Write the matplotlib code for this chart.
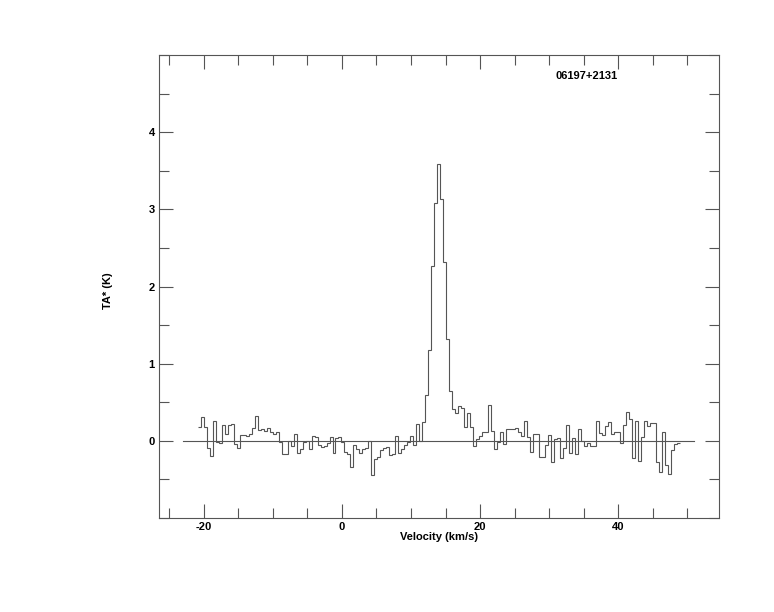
import matplotlib

matplotlib.use("Agg")

import matplotlib.pyplot as plt
import numpy as np
from matplotlib.ticker import MultipleLocator

# channel grid (km/s) and antenna temperature per channel (K)
v_start = -20.9
chan_width = 0.434
ta = [
    0.18, 0.31, 0.18, -0.095, -0.2, 0.26, -0.02, -0.03, 0.2, 0.09,
    0.2, 0.22, -0.04, -0.095, 0.07, 0.07, 0.065, 0.09, 0.17, 0.32,
    0.14, 0.15, 0.13, 0.16, 0.12, 0.09, 0.12, -0.01, -0.17, -0.17,
    0.0, -0.07, 0.09, -0.16, -0.11, -0.01, 0.0, -0.1, 0.06, 0.056,
    -0.06, -0.086, -0.07, -0.03, 0.05, -0.16, 0.035, 0.05, -0.01, -0.15,
    -0.17, -0.34, -0.05, -0.1, -0.16, -0.1, -0.09, 0.0, -0.44, -0.24,
    -0.21, -0.12, -0.09, -0.08, -0.19, -0.17, 0.065, -0.16, -0.11, -0.06,
    -0.02, 0.065, -0.05, 0.22, 0.0, 0.24, 0.6, 1.18, 2.26, 3.08,
    3.59, 3.14, 2.32, 1.32, 0.65, 0.41, 0.36, 0.45, 0.42, 0.185,
    0.36, 0.185, -0.07, 0.03, 0.06, 0.11, 0.11, 0.47, 0.13, -0.11,
    -0.02, 0.12, -0.04, 0.15, 0.15, 0.15, 0.16, 0.11, 0.065, 0.26,
    0.056, -0.14, 0.086, 0.086, -0.21, -0.21, -0.05, 0.07, -0.27, 0.02,
    0.04, -0.22, -0.095, 0.2, -0.16, 0.035, -0.17, 0.15, 0.0, -0.065,
    -0.03, -0.07, -0.065, 0.26, 0.1, 0.07, 0.19, 0.25, 0.086, 0.11,
    0.11, -0.03, 0.21, 0.37, 0.28, -0.22, 0.26, -0.26, 0.056, 0.26,
    0.19, 0.23, 0.23, -0.28, -0.4, 0.11, -0.31, -0.43, -0.12, -0.04,
    -0.03,
]
baseline_range = [-23.0, 51.0]
source_name = "06197+2131"

LINE = "#555555"
FONT = ["Liberation Sans", "DejaVu Sans"]

plt.rcParams.update({
    "font.family": FONT,
    "font.size": 8,
    "font.weight": "bold",
    "axes.unicode_minus": False,
})

fig = plt.figure(figsize=(7.74, 6.12), dpi=100)
ax = fig.add_axes([0.2054, 0.1536, 0.7235, 0.7565])

edges = v_start + chan_width * np.arange(len(ta) + 1)
ax.stairs(ta, edges, baseline=None, color=LINE, linewidth=0.8)
ax.plot(baseline_range, [0, 0], color=LINE, linewidth=0.8)

ax.set_xlim(-26.5, 54.6)
ax.set_ylim(-1, 5)
ax.xaxis.set_major_locator(MultipleLocator(20))
ax.xaxis.set_minor_locator(MultipleLocator(5))
ax.yaxis.set_minor_locator(MultipleLocator(0.5))
ax.set_yticks([0, 1, 2, 3, 4])
ax.tick_params(which="both", direction="in", top=True, right=True, color=LINE, width=0.8)
ax.tick_params(which="major", length=10, pad=3, labelsize=8)
ax.tick_params(which="minor", length=7)
for sp in ax.spines.values():
    sp.set_color(LINE)
    sp.set_linewidth(0.8)

ax.set_xlabel("Velocity (km/s)", fontsize=8, fontweight="bold")
ax.xaxis.set_label_coords(0.5, -0.031)
ax.set_ylabel("TA* (K)", fontsize=8, fontweight="bold")
ax.yaxis.set_label_coords(-0.082, 0.49)

ax.text(0.764, 0.955, source_name, transform=ax.transAxes, ha="center", va="center",
        fontsize=8, fontweight="bold")

fig.savefig("out.png", dpi=100)
plt.close(fig)
